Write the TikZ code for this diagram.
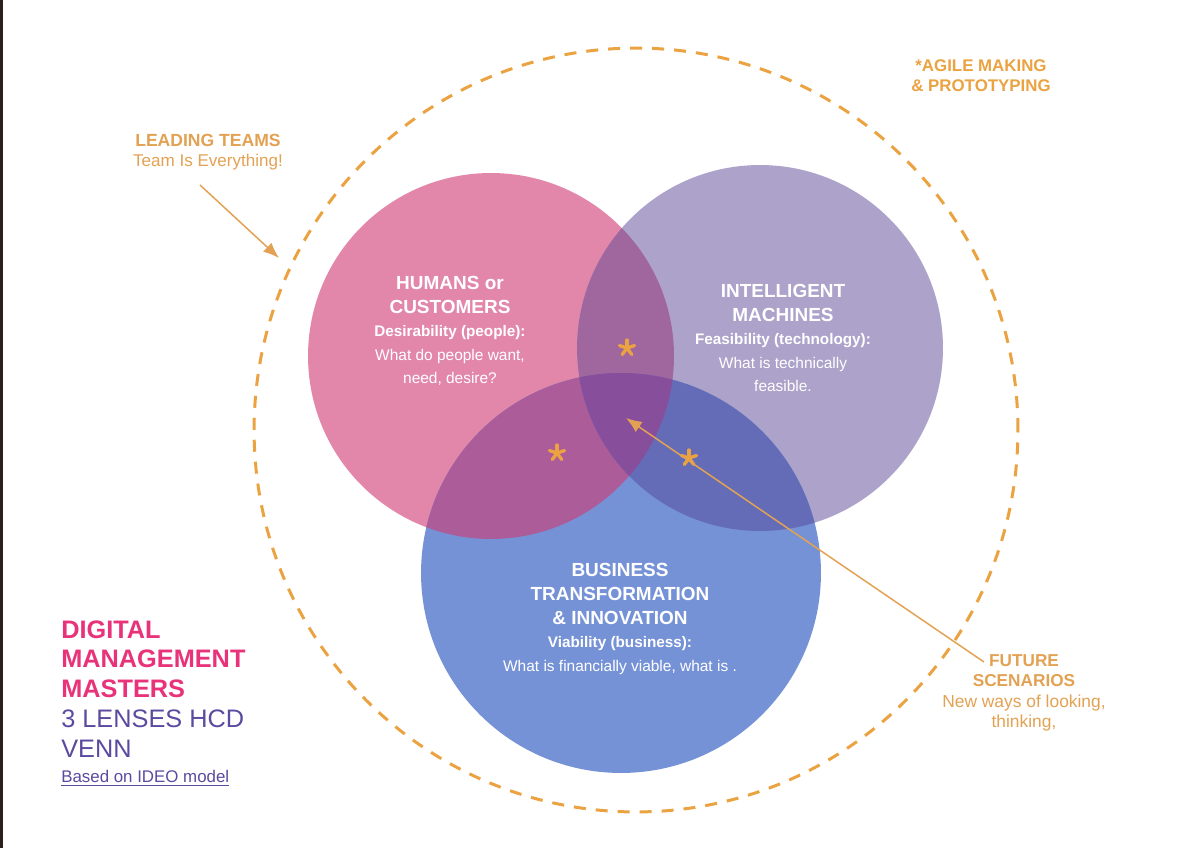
\documentclass[tikz,border=0pt]{standalone}
\usepackage{fontspec}
\setmainfont{Liberation Sans}
\usepackage{tikz}
\usetikzlibrary{arrows.meta}

\definecolor{humpink}{HTML}{E287AA}
\definecolor{machlila}{HTML}{ACA2CA}
\definecolor{busblue}{HTML}{7692D6}
\definecolor{humxmach}{HTML}{A0679E}
\definecolor{humxbus}{HTML}{AC5C98}
\definecolor{machxbus}{HTML}{646CB8}
\definecolor{allthree}{HTML}{864E9B}
\definecolor{agileor}{HTML}{EBA241}
\definecolor{labelor}{HTML}{E3A253}
\definecolor{titlepink}{HTML}{E8337B}
\definecolor{titlelila}{HTML}{5B4A9F}
\definecolor{edgedark}{HTML}{2B201C}

\newcommand{\lenshead}{\fontsize{10.8}{13.4}\selectfont\bfseries}
\newcommand{\lenssub}{\fontsize{8.7}{13.4}\selectfont\bfseries}
\newcommand{\lenstxt}{\fontsize{8.8}{13.4}\selectfont}
\newcommand{\venstar}[1]{\foreach \a in {90,162,234,306,18} \draw[starline] (#1) -- ++(\a:0.16cm);}

\tikzset{
	lens text/.style={text=white, align=center, inner sep=0pt, font=\lenstxt},
	side label/.style={text=labelor, align=center, inner sep=0pt},
	pointer/.style={draw=labelor, line width=0.85pt, -{Latex[length=9pt,width=7pt]}},
	starline/.style={draw=agileor, line width=1.9pt, line cap=round},
	outer ring/.style={draw=agileor, line width=1.7pt, dash pattern=on 0.24cm off 0.2cm}
}

\begin{document}
\begin{tikzpicture}[x=0.02cm, y=-0.02cm]
	\useasboundingbox (0,0) rectangle (1200,848);
	\fill[white] (0,0) rectangle (1200,848);
	\fill[edgedark] (0,0) rectangle (3,848);
	% Lenses:
	\coordinate (cHum) at (491,356);
	\coordinate (cMach) at (760,348);
	\coordinate (cBus) at (621,573);
	\coordinate (cRing) at (636,430);
	\fill[humpink] (cHum) circle[radius=3.66cm];
	\fill[machlila] (cMach) circle[radius=3.66cm];
	\fill[busblue] (cBus) circle[radius=4cm];
	\begin{scope}
		\clip (cHum) circle[radius=3.66cm];
		\fill[humxmach] (cMach) circle[radius=3.66cm];
		\fill[humxbus] (cBus) circle[radius=4cm];
	\end{scope}
	\begin{scope}
		\clip (cMach) circle[radius=3.66cm];
		\fill[machxbus] (cBus) circle[radius=4cm];
		\clip (cHum) circle[radius=3.66cm];
		\fill[allthree] (cBus) circle[radius=4cm];
	\end{scope}
	\draw[outer ring] (cRing) circle[radius=7.64cm];
	% Texts:
	\node[lens text] (hum) at (450,331) {{\lenshead HUMANS or}\\{\lenshead CUSTOMERS}\\{\lenssub Desirability (people):}\\What do people want,\\need, desire?};
	\node[lens text] (mach) at (783,338) {{\lenshead INTELLIGENT}\\{\lenshead MACHINES}\\{\lenssub Feasibility (technology):}\\What is technically\\feasible.};
	\node[lens text] (bus) at (620,619) {{\lenshead BUSINESS}\\{\lenshead TRANSFORMATION}\\{\lenshead \& INNOVATION}\\{\lenssub Viability (business):}\\What is financially viable, what is .};
	\node[side label, text=agileor, font=\fontsize{9.6}{11.4}\selectfont\bfseries] (agile) at (981,76) {*AGILE MAKING\\\& PROTOTYPING};
	\node[side label, font=\fontsize{9.7}{11.4}\selectfont] (lead) at (208,152) {{\bfseries\fontsize{10}{11.4}\selectfont LEADING TEAMS}\\Team Is Everything!};
	\node[side label, font=\fontsize{9.9}{11.6}\selectfont] (future) at (1024,693) {{\bfseries\fontsize{9.8}{11.6}\selectfont FUTURE}\\{\bfseries\fontsize{9.8}{11.6}\selectfont SCENARIOS}\\New ways of looking,\\thinking,};
	\node[anchor=north west, align=left, inner sep=0pt, font=\fontsize{14.4}{17}\selectfont] (title) at (61,620) {{\color{titlepink}\bfseries DIGITAL}\\{\color{titlepink}\bfseries MANAGEMENT}\\{\color{titlepink}\bfseries MASTERS}\\{\color{titlelila}3 LENSES HCD}\\{\color{titlelila}VENN}\\[-2.8pt]{\fontsize{9.6}{17}\selectfont\color{titlelila}\underline{Based on IDEO model}}};
	% Stars and pointers:
	\venstar{627,348}
	\venstar{557,453}
	\venstar{689,458}
	\coordinate (leadtail) at (200,185);
	\coordinate (leadtip) at (279,258);
	\coordinate (futtail) at (984,662);
	\coordinate (futtip) at (626,418);
	\draw[pointer] (leadtail) -- (leadtip);
	\draw[pointer] (futtail) -- (futtip);
\end{tikzpicture}
\end{document}
